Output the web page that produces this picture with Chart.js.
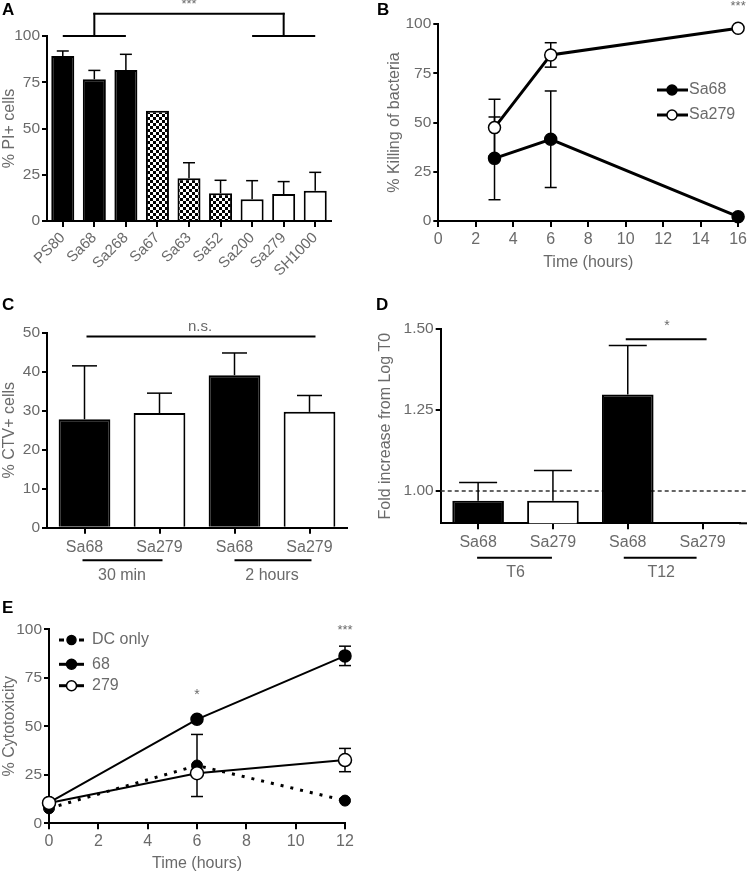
<!DOCTYPE html>
<html>
<head>
<meta charset="utf-8">
<script src="https://cdn.jsdelivr.net/npm/chart.js@4.4.1/dist/chart.umd.min.js"></script>
<style>
  body { margin: 0; background: #fff; width: 750px; height: 873px; position: relative; overflow: hidden; }
  canvas { position: absolute; }
</style>
</head>
<body>
<canvas id="grafA" width="375" height="295" style="left:0;top:0"></canvas>
<canvas id="grafB" width="375" height="295" style="left:375px;top:0"></canvas>
<canvas id="grafC" width="375" height="290" style="left:0;top:295px"></canvas>
<canvas id="grafD" width="375" height="290" style="left:375px;top:295px"></canvas>
<canvas id="grafE" width="375" height="293" style="left:0;top:580px"></canvas>
<script>
// A: % PI+ cells por cepa
const cepasA = ["PS80", "Sa68", "Sa268", "Sa67", "Sa63", "Sa52", "Sa200", "Sa279", "SH1000"];
const piA = [89.2, 76.6, 81.6, 59.6, 23.1, 15, 11.7, 14.6, 16.4];
const piErrA = [2.7, 4.8, 8.5, 0, 8.4, 7, 10.1, 6.7, 9.9];

// B: % killing of bacteria
const horasB = [3, 6, 16];
const sa68B = [31.8, 41.5, 2.2];
const sa68ErrB = [21, 24.5, 0];
const sa279B = [47.4, 84.3, 97.8];
const sa279ErrB = [14.4, 6.2, 0];

// C: % CTV+ cells
const cepasC = ["Sa68", "Sa279", "Sa68", "Sa279"];
const ctvC = [27.8, 29.4, 39.1, 29.7];
const ctvErrC = [13.7, 5.1, 5.7, 4.2];

// D: fold increase
const cepasD = ["Sa68", "Sa279", "Sa68", "Sa279"];
const foldD = [0.97, 0.97, 1.298, null];
const foldErrD = [0.056, 0.093, 0.151, 0];
const marcasD = [1.0, 1.25, 1.5];

// E: % cytotoxicity
const horasE = [0, 6, 12];
const dcE = [7.7, 29.8, 11.7];
const dcErrE = [0, 16, 0];
const sa68E = [10.6, 53.6, 86.3];
const sa68ErrE = [0, 0, 5];
const sa279E = [10.5, 25.8, 32.6];
const sa279ErrE = [0, 0, 6];

const gris = '#6a6a6a';
const familia = "'Liberation Sans', Arial, sans-serif";
Chart.defaults.font.family = familia;
Chart.defaults.color = gris;
Chart.defaults.animation = false;
Chart.defaults.events = [];
Chart.defaults.responsive = false;
Chart.defaults.plugins.legend.display = false;
Chart.defaults.plugins.tooltip.enabled = false;

function puntos(xs, ys) { return xs.map((x, i) => ({ x: x, y: ys[i] })); }

function linea(ctx, x1, y1, x2, y2, ancho) {
  ctx.save();
  ctx.beginPath(); ctx.moveTo(x1, y1); ctx.lineTo(x2, y2);
  ctx.lineWidth = ancho || 2; ctx.strokeStyle = '#000'; ctx.stroke();
  ctx.restore();
}
function texto(ctx, t, x, y, tam, alin) {
  ctx.save();
  ctx.font = tam + 'px ' + familia;
  ctx.fillStyle = gris; ctx.textAlign = alin || 'center'; ctx.textBaseline = 'middle';
  ctx.fillText(t, x, y);
  ctx.restore();
}
function letra(ctx, t, x, y) {
  ctx.save();
  ctx.font = 'bold 17px ' + familia;
  ctx.fillStyle = '#000'; ctx.textAlign = 'left'; ctx.textBaseline = 'alphabetic';
  ctx.fillText(t, x, y);
  ctx.restore();
}
function circulo(ctx, x, y, r, relleno) {
  ctx.save();
  ctx.beginPath(); ctx.arc(x, y, r, 0, Math.PI * 2);
  ctx.fillStyle = relleno; ctx.fill();
  ctx.lineWidth = 1.5; ctx.strokeStyle = '#000'; ctx.stroke();
  ctx.restore();
}

function patronCuadros() {
  const c = document.createElement('canvas');
  c.width = 6; c.height = 6;
  const g = c.getContext('2d');
  g.fillStyle = '#fff'; g.fillRect(0, 0, 6, 6);
  g.fillStyle = '#000'; g.fillRect(0, 0, 3, 3); g.fillRect(3, 3, 3, 3);
  return g.createPattern(c, 'repeat');
}
const cuadros = patronCuadros();

function ejeY(ancho, min, max, paso, titulo, padTitulo) {
  return {
    min: min, max: max,
    ticks: { stepSize: paso, color: gris, font: { size: 15.5 }, padding: 2 },
    grid: { display: true, drawOnChartArea: false, drawTicks: true, tickLength: 5, color: '#000', lineWidth: 2 },
    border: { display: true, color: '#000', width: 2 },
    title: { display: true, text: titulo, color: gris, font: { size: 16 }, padding: { top: padTitulo, bottom: 0 } },
    afterFit: s => { s.width = ancho; }
  };
}
function ejeX(alto, extra) {
  return {
    offset: true,
    ticks: Object.assign({ color: gris, font: { size: 16 }, padding: 4, autoSkip: false, maxRotation: 0 }, extra || {}),
    grid: { display: true, offset: false, drawOnChartArea: false, drawTicks: true, tickLength: 6, color: '#000', lineWidth: 2 },
    border: { display: true, color: '#000', width: 2 },
    afterFit: s => { s.height = alto; }
  };
}
function ejeXLineal(alto, max, padTitulo) {
  return {
    type: 'linear', min: 0, max: max,
    ticks: { stepSize: 2, color: gris, font: { size: 16 }, padding: 3, maxRotation: 0 },
    grid: { display: true, drawOnChartArea: false, drawTicks: true, tickLength: 6, color: '#000', lineWidth: 2 },
    border: { display: true, color: '#000', width: 2 },
    title: { display: true, text: 'Time (hours)', color: gris, font: { size: 16 }, padding: { top: 0, bottom: padTitulo } },
    afterFit: s => { s.height = alto; }
  };
}

function erroresBarras(chart, errores, cap) {
  const ctx = chart.ctx, y = chart.scales.y;
  const valores = chart.data.datasets[0].data;
  chart.getDatasetMeta(0).data.forEach((bar, i) => {
    if (valores[i] == null || !errores[i]) return;
    const top = y.getPixelForValue(valores[i] + errores[i]);
    linea(ctx, bar.x, bar.y, bar.x, top, 1.5);
    linea(ctx, bar.x - cap / 2, top, bar.x + cap / 2, top, 1.5);
  });
}
function erroresLineas(chart, cap) {
  const ctx = chart.ctx, y = chart.scales.y;
  chart.data.datasets.forEach((ds, d) => {
    if (!ds.errores) return;
    const meta = chart.getDatasetMeta(d);
    ds.data.forEach((p, i) => {
      const e = ds.errores[i];
      if (!e) return;
      const x = meta.data[i].x;
      const yA = y.getPixelForValue(p.y + e), yB = y.getPixelForValue(p.y - e);
      linea(ctx, x, yA, x, yB, 1.5);
      linea(ctx, x - cap / 2, yA, x + cap / 2, yA, 1.5);
      linea(ctx, x - cap / 2, yB, x + cap / 2, yB, 1.5);
    });
  });
}

// ---------- A ----------
new Chart(document.getElementById('grafA'), {
  type: 'bar',
  data: {
    labels: cepasA,
    datasets: [{
      data: piA,
      backgroundColor: cepasA.map((c, i) => i < 3 ? '#000' : (i < 6 ? cuadros : '#fff')),
      borderColor: '#000', borderWidth: 2,
      barPercentage: 0.73, categoryPercentage: 1
    }]
  },
  options: {
    layout: { padding: { top: 36, right: 44, left: 0, bottom: 0 } },
    scales: {
      x: ejeX(74, { minRotation: 45, maxRotation: 45, font: { size: 15 }, padding: 2 }),
      y: ejeY(47, 0, 100, 25, '% PI+ cells', 0)
    }
  },
  plugins: [{
    id: 'anotA',
    afterDatasetsDraw(chart) { erroresBarras(chart, piErrA, 12); },
    afterDraw(chart) {
      const ctx = chart.ctx, x = chart.scales.x, y = chart.scales.y;
      const y100 = y.getPixelForValue(100), yTop = y.getPixelForValue(112);
      linea(ctx, x.getPixelForValue(0), y100, x.getPixelForValue(2), y100);
      linea(ctx, x.getPixelForValue(6), y100, x.getPixelForValue(8), y100);
      linea(ctx, x.getPixelForValue(1), y100, x.getPixelForValue(1), yTop - 1);
      linea(ctx, x.getPixelForValue(7), y100, x.getPixelForValue(7), yTop - 1);
      linea(ctx, x.getPixelForValue(1) - 1, yTop, x.getPixelForValue(7) + 1, yTop);
      texto(ctx, '***', x.getPixelForValue(4), 4, 13);
      letra(ctx, 'A', 2, 15);
    }
  }]
});

// ---------- B ----------
new Chart(document.getElementById('grafB'), {
  type: 'line',
  data: {
    datasets: [{
      label: 'Sa68', data: puntos(horasB, sa68B), errores: sa68ErrB,
      borderColor: '#000', borderWidth: 3, pointRadius: 6, pointBackgroundColor: '#000',
      pointBorderColor: '#000', pointBorderWidth: 1.5, clip: false
    }, {
      label: 'Sa279', data: puntos(horasB, sa279B), errores: sa279ErrB,
      borderColor: '#000', borderWidth: 3, pointRadius: 6, pointBackgroundColor: '#fff',
      pointBorderColor: '#000', pointBorderWidth: 1.5, clip: false
    }]
  },
  options: {
    layout: { padding: { top: 24, right: 8, left: 0, bottom: 0 } },
    scales: {
      x: ejeXLineal(74, 16, 23),
      y: ejeY(63.3, 0, 100, 25, '% Killing of bacteria', 10)
    }
  },
  plugins: [{
    id: 'anotB',
    beforeDatasetsDraw(chart) { erroresLineas(chart, 12); },
    afterDraw(chart) {
      const ctx = chart.ctx, x = chart.scales.x, y = chart.scales.y;
      texto(ctx, '***', x.getPixelForValue(16), 6, 13);
      [['Sa68', '#000', 90], ['Sa279', '#fff', 115]].forEach(it => {
        linea(ctx, 282, it[2], 313, it[2], 3);
        circulo(ctx, 297, it[2], 5, it[1]);
        texto(ctx, it[0], 314, it[2], 16, 'left');
      });
      letra(ctx, 'B', 2, 15);
    }
  }]
});

// ---------- C ----------
new Chart(document.getElementById('grafC'), {
  type: 'bar',
  data: {
    labels: cepasC,
    datasets: [{
      data: ctvC,
      backgroundColor: ['#000', '#fff', '#000', '#fff'],
      borderColor: '#000', borderWidth: 2,
      barPercentage: 0.69, categoryPercentage: 1
    }]
  },
  options: {
    layout: { padding: { top: 37.7, right: 28, left: 0, bottom: 0 } },
    scales: {
      x: ejeX(57.3),
      y: ejeY(47, 0, 50, 10, '% CTV+ cells', 0)
    }
  },
  plugins: [{
    id: 'anotC',
    afterDatasetsDraw(chart) { erroresBarras(chart, ctvErrC, 25); },
    afterDraw(chart) {
      const ctx = chart.ctx, x = chart.scales.x, y = chart.scales.y;
      const yNs = y.getPixelForValue(49);
      linea(ctx, x.getPixelForValue(0) + 2, yNs, x.getPixelForValue(3) + 6, yNs);
      texto(ctx, 'n.s.', 200, yNs - 10, 15);
      const b = chart.chartArea.bottom;
      linea(ctx, x.getPixelForValue(0) - 2, b + 32.5, x.getPixelForValue(1) + 3, b + 32.5);
      linea(ctx, x.getPixelForValue(2), b + 32.5, x.getPixelForValue(3) + 2, b + 32.5);
      texto(ctx, '30 min', (x.getPixelForValue(0) + x.getPixelForValue(1)) / 2, b + 47.5, 16);
      texto(ctx, '2 hours', (x.getPixelForValue(2) + x.getPixelForValue(3)) / 2, b + 47.5, 16);
      letra(ctx, 'C', 2, 15);
    }
  }]
});

// ---------- D ----------
const ejeYD = ejeY(65.7, 0.9, 1.5, 0.25, 'Fold increase from Log T0', 1.4);
ejeYD.afterBuildTicks = s => { s.ticks = marcasD.map(v => ({ value: v })); };
ejeYD.ticks.callback = v => Number(v).toFixed(2);

new Chart(document.getElementById('grafD'), {
  type: 'bar',
  data: {
    labels: cepasD,
    datasets: [{
      data: foldD,
      backgroundColor: ['#000', '#fff', '#000', '#fff'],
      borderColor: '#000', borderWidth: 2,
      barPercentage: 0.69, categoryPercentage: 1
    }]
  },
  options: {
    layout: { padding: { top: 34, right: 10, left: 0, bottom: 0 } },
    scales: {
      x: ejeX(61.7),
      y: ejeYD
    }
  },
  plugins: [{
    id: 'anotD',
    beforeDatasetsDraw(chart) {
      const ctx = chart.ctx, y = chart.scales.y, a = chart.chartArea;
      const y1 = y.getPixelForValue(1.0);
      ctx.save();
      ctx.setLineDash([4, 3]);
      ctx.beginPath(); ctx.moveTo(a.left, y1); ctx.lineTo(373, y1);
      ctx.lineWidth = 1.5; ctx.strokeStyle = '#333'; ctx.stroke();
      ctx.restore();
    },
    afterDatasetsDraw(chart) { erroresBarras(chart, foldErrD, 38); },
    afterDraw(chart) {
      const ctx = chart.ctx, x = chart.scales.x, y = chart.scales.y, a = chart.chartArea;
      linea(ctx, a.right - 1, a.bottom, 372, a.bottom);
      const ySig = y.getPixelForValue(1.468);
      linea(ctx, x.getPixelForValue(2) - 2, ySig, x.getPixelForValue(3) + 4, ySig);
      texto(ctx, '*', 292, ySig - 13, 14);
      const b = a.bottom;
      linea(ctx, x.getPixelForValue(0) - 1, b + 34.5, x.getPixelForValue(1) - 1, b + 34.5);
      linea(ctx, x.getPixelForValue(2) - 4, b + 34.5, x.getPixelForValue(3) - 6, b + 34.5);
      texto(ctx, 'T6', (x.getPixelForValue(0) + x.getPixelForValue(1)) / 2, b + 49, 16);
      texto(ctx, 'T12', (x.getPixelForValue(2) + x.getPixelForValue(3)) / 2 - 4, b + 49, 16);
      letra(ctx, 'D', 1, 15);
    }
  }]
});

// ---------- E ----------
new Chart(document.getElementById('grafE'), {
  type: 'line',
  data: {
    datasets: [{
      label: 'DC only', data: puntos(horasE, dcE), errores: dcErrE, order: 2,
      borderColor: '#000', borderWidth: 3, borderDash: [3, 7], pointRadius: 5.5,
      pointBackgroundColor: '#000', pointBorderColor: '#000', pointBorderWidth: 1, clip: false
    }, {
      label: '68', data: puntos(horasE, sa68E), errores: sa68ErrE, order: 1,
      borderColor: '#000', borderWidth: 2, pointRadius: 6,
      pointBackgroundColor: '#000', pointBorderColor: '#000', pointBorderWidth: 1.5, clip: false
    }, {
      label: '279', data: puntos(horasE, sa279E), errores: sa279ErrE, order: 0,
      borderColor: '#000', borderWidth: 2, pointRadius: 6.5,
      pointBackgroundColor: '#fff', pointBorderColor: '#000', pointBorderWidth: 1.5, clip: false
    }]
  },
  options: {
    layout: { padding: { top: 49.3, right: 30, left: 0, bottom: 0 } },
    scales: {
      x: ejeXLineal(49.7, 12, 0),
      y: ejeY(49, 0, 100, 25, '% Cytotoxicity', 0)
    }
  },
  plugins: [{
    id: 'anotE',
    beforeDatasetsDraw(chart) { erroresLineas(chart, 12); },
    afterDraw(chart) {
      const ctx = chart.ctx, x = chart.scales.x, y = chart.scales.y;
      texto(ctx, '*', x.getPixelForValue(6), y.getPixelForValue(66), 14);
      texto(ctx, '***', x.getPixelForValue(12), y.getPixelForValue(100) + 1, 13);
      // leyenda
      ctx.save();
      ctx.setLineDash([5, 5]);
      ctx.beginPath(); ctx.moveTo(59, 60); ctx.lineTo(84, 60);
      ctx.lineWidth = 3; ctx.strokeStyle = '#000'; ctx.stroke();
      ctx.restore();
      circulo(ctx, 71.5, 60, 4.5, '#000');
      linea(ctx, 59, 84.3, 84, 84.3, 3);
      circulo(ctx, 71.5, 84.3, 5, '#000');
      linea(ctx, 59, 105.7, 84, 105.7, 3);
      circulo(ctx, 71.5, 105.7, 5, '#fff');
      texto(ctx, 'DC only', 92, 60, 16, 'left');
      texto(ctx, '68', 92, 84.3, 16, 'left');
      texto(ctx, '279', 92, 105.7, 16, 'left');
      letra(ctx, 'E', 2, 33);
    }
  }]
});
</script>
</body>
</html>
